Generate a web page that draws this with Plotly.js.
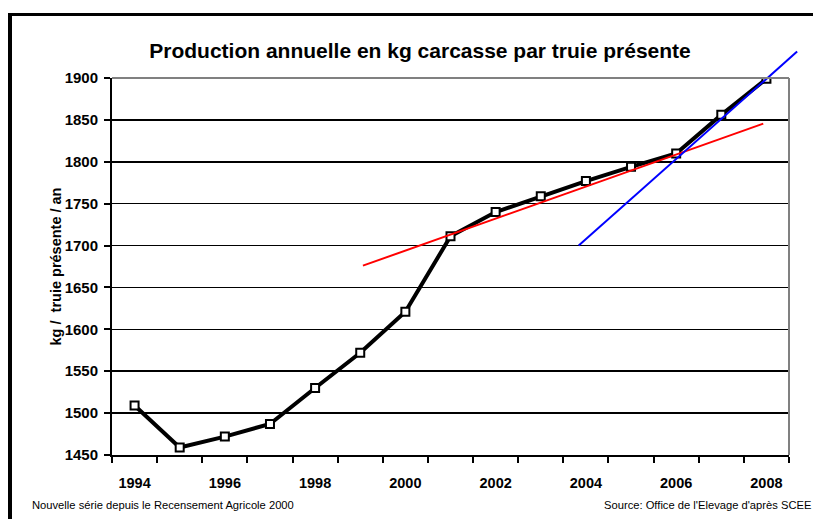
<!DOCTYPE html>
<html>
<head>
<meta charset="utf-8">
<script src="https://cdn.plot.ly/plotly-3.0.1.min.js"></script>
<style>
  html, body { margin: 0; padding: 0; background: #fff; overflow: hidden; }
  #wrap { position: relative; width: 813px; height: 519px; overflow: hidden; }
  #chart { position: absolute; left: 0; top: 0; width: 813px; height: 519px; }
  #frame { position: absolute; left: 8px; top: 13px; width: 900px; height: 600px;
           border-left: 4px solid #000; border-top: 3px solid #000; pointer-events: none; }
</style>
</head>
<body>
<div id="wrap">
  <div id="chart"></div>
  <div id="frame"></div>
</div>
<script>
// ---- data ----
const years = [1994, 1995, 1996, 1997, 1998, 1999, 2000, 2001, 2002, 2003, 2004, 2005, 2006, 2007, 2008];
const production = [1509, 1459, 1472, 1487, 1530, 1572, 1621, 1711, 1740, 1759, 1777, 1794, 1810, 1856, 1899];
const redTrendX = [1999.06, 2007.93];
const redTrendY = [1676, 1845.5];
const blueTrendX = [2003.84, 2008.68];
const blueTrendY = [1700, 1931.5];
const xTickVals = [1994, 1996, 1998, 2000, 2002, 2004, 2006, 2008];
const xTickText = ['1994', '1996', '1998', '2000', '2002', '2004', '2006', '2008'];
const yTickVals = [1450, 1500, 1550, 1600, 1650, 1700, 1750, 1800, 1850, 1900];

const titleText = 'Production annuelle en kg carcasse par truie présente';
const yTitleText = 'kg /  truie présente / an';
const noteLeft = 'Nouvelle série depuis le Recensement Agricole 2000';
const noteRight = "Source: Office de l'Elevage d'après SCEE";

// ---- layout geometry ----
const W = 813, H = 519;
const mL = 112, mR = 10, mT = 40, mB = 64;
const plotRight = 789, plotTop = 78;
const xMin = 1993.5, xMax = 2008.5, yMin = 1450, yMax = 1900;
const pw = W - mL - mR, ph = H - mT - mB;
const xDomEnd = (plotRight - mL) / pw;
const yDomEnd = (H - mB - plotTop) / ph;
const x2Max = xMin + (xMax - xMin) / xDomEnd;
const y2Max = yMin + (yMax - yMin) / yDomEnd;

const FONT = 'Arial, "Liberation Sans", sans-serif';

const traces = [
  {
    x: years, y: production, type: 'scatter', mode: 'lines+markers',
    line: { color: '#000', width: 4 },
    marker: { symbol: 'square', size: 8, color: '#fff', line: { color: '#000', width: 2 } },
    hoverinfo: 'x+y', showlegend: false
  },
  {
    x: redTrendX, y: redTrendY, type: 'scatter', mode: 'lines',
    line: { color: '#ff0000', width: 2 }, showlegend: false
  },
  {
    x: blueTrendX, y: blueTrendY, type: 'scatter', mode: 'lines',
    xaxis: 'x2', yaxis: 'y2',
    line: { color: '#0000ff', width: 2 }, showlegend: false
  }
];

const layout = {
  width: W, height: H,
  margin: { l: mL, r: mR, t: mT, b: mB, pad: 0 },
  paper_bgcolor: '#fff', plot_bgcolor: 'rgba(0,0,0,0)',
  font: { family: FONT, color: '#000' },
  showlegend: false,
  title: {
    text: '<b>' + titleText + '</b>',
    font: { family: FONT, size: 21, color: '#000' },
    xref: 'container', yref: 'container',
    x: 420 / W, y: 1 - 51 / H, xanchor: 'center', yanchor: 'middle'
  },
  xaxis: {
    domain: [0, xDomEnd], range: [xMin, xMax], anchor: 'y',
    tickmode: 'array', tickvals: xTickVals, ticktext: xTickText,
    ticks: '', showgrid: false, zeroline: false,
    ticklabelstandoff: 14,
    tickfont: { family: FONT, size: 14.5, color: '#000', weight: 'bold' },
    showline: true, linecolor: '#000', linewidth: 2,
    minor: { ticks: 'outside', tick0: 1993.5, dtick: 1, ticklen: 6, tickwidth: 2, tickcolor: '#000', showgrid: false }
  },
  yaxis: {
    domain: [0, yDomEnd], range: [yMin, yMax], anchor: 'x',
    tickmode: 'array', tickvals: yTickVals,
    ticks: 'outside', ticklen: 6, tickwidth: 2, tickcolor: '#000',
    ticklabelstandoff: 3,
    tickfont: { family: FONT, size: 15, color: '#000', weight: 'bold' },
    showgrid: true, gridcolor: '#000', gridwidth: 1.5, zeroline: false,
    showline: true, linecolor: '#000', linewidth: 2,
    title: { text: '<b>' + yTitleText + '</b>', font: { family: FONT, size: 14.5, color: '#000' }, standoff: 0 }
  },
  xaxis2: { domain: [0, 1], range: [xMin, x2Max], anchor: 'y2', visible: false, fixedrange: true },
  yaxis2: { domain: [0, 1], range: [yMin, y2Max], anchor: 'x2', visible: false, fixedrange: true },
  shapes: [
    { type: 'line', xref: 'x domain', yref: 'y domain', x0: 0, x1: 1, y0: 1, y1: 1,
      line: { color: '#808080', width: 2 }, layer: 'above' },
    { type: 'line', xref: 'x domain', yref: 'y domain', x0: 1, x1: 1, y0: 0, y1: 1,
      line: { color: '#808080', width: 2 }, layer: 'above' }
  ],
  annotations: [
    { text: noteLeft, xref: 'paper', yref: 'paper',
      x: (30 - mL) / pw, y: -(505 - (H - mB)) / ph, xanchor: 'left', yanchor: 'middle',
      showarrow: false, font: { family: FONT, size: 11.2, color: '#000' } },
    { text: noteRight, xref: 'paper', yref: 'paper',
      x: (813 - mL) / pw, y: -(505 - (H - mB)) / ph, xanchor: 'right', yanchor: 'middle',
      showarrow: false, font: { family: FONT, size: 11.2, color: '#000' } }
  ]
};

Plotly.newPlot('chart', traces, layout, { displayModeBar: false, staticPlot: true });
</script>
</body>
</html>
